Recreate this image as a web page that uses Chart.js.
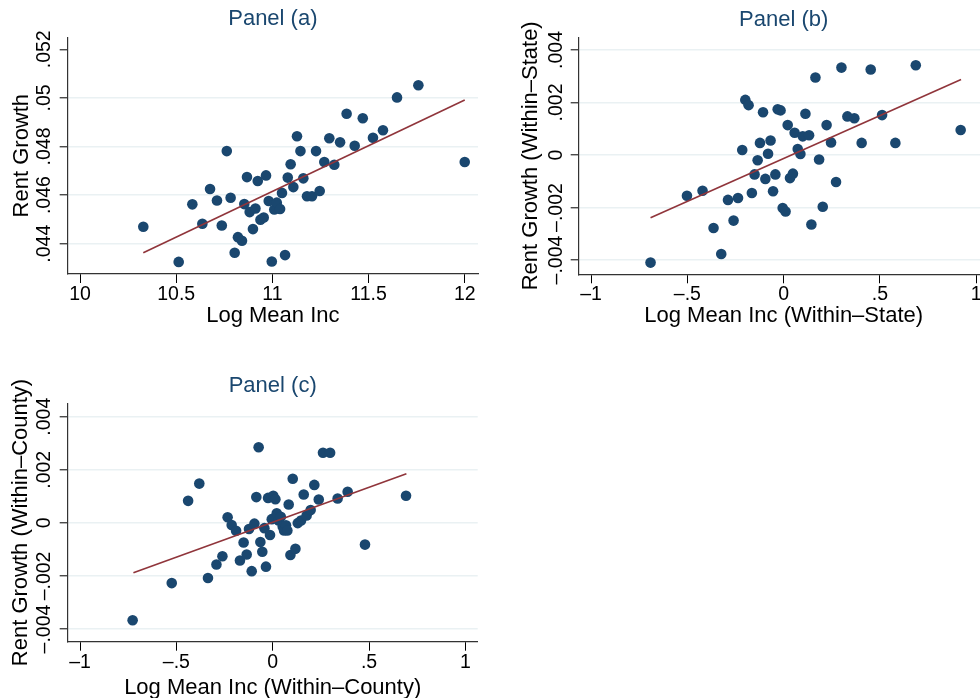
<!DOCTYPE html>
<html>
<head>
<meta charset="utf-8">
<script src="https://cdn.jsdelivr.net/npm/chart.js@4"></script>
<style>
  html, body { margin: 0; padding: 0; background: #fff; overflow: hidden; }
  #wrap { position: relative; width: 980px; height: 698px; overflow: hidden; background: #fff; }
  canvas { position: absolute; }
</style>
</head>
<body>
<div id="wrap">
  <canvas id="ch-a" width="490" height="340" style="left:0;top:0"></canvas>
  <canvas id="ch-b" width="510" height="340" style="left:490px;top:0"></canvas>
  <canvas id="ch-c" width="490" height="350" style="left:0;top:360px"></canvas>
</div>
<script>
// panel (a): levels
const incA = [10.329, 10.513, 10.584, 10.636, 10.676, 10.712, 10.737, 10.763, 10.783, 10.804,
  10.821, 10.842, 10.854, 10.868, 10.882, 10.899, 10.912, 10.924, 10.938, 10.955,
  10.967, 10.981, 10.997, 11.010, 11.023, 11.040, 11.050, 11.066, 11.080, 11.095,
  11.109, 11.128, 11.146, 11.161, 11.180, 11.206, 11.227, 11.246, 11.270, 11.296,
  11.322, 11.352, 11.386, 11.428, 11.470, 11.523, 11.575, 11.648, 11.759, 12.000];
const rentA = [.0447, .04325, .04562, .04482, .04625, .04578, .04475, .04781, .04589, .04363,
  .04427, .04412, .04563, .04674, .0453, .0446, .04545, .04658, .04499, .04508,
  .04681, .04576, .04327, .04541, .04569, .04543, .04609, .04353, .04672, .04727,
  .04633, .04842, .04781, .04669, .04595, .04595, .04781, .04617, .04736, .04834,
  .04725, .04817, .04935, .04803, .04916, .04836, .04867, .05002, .05052, .04736];
const fitAx = [10.329, 12.0];
const fitAy = [.04363, .04991];

// panel (b): within-state
const incB = [-.691, -.502, -.421, -.364, -.324, -.289, -.260, -.237, -.215, -.199,
  -.182, -.165, -.151, -.135, -.123, -.107, -.095, -.081, -.068, -.055,
  -.043, -.031, -.016, -.005, .010, .021, .033, .048, .057, .073,
  .087, .099, .113, .132, .144, .165, .184, .203, .223, .246,
  .272, .300, .331, .367, .405, .452, .511, .580, .686, .919];
const rentB = [-.0041, -.00155, -.00136, -.00278, -.00377, -.00171, -.0025, -.00164, .00019, .0021,
  .0019, -.00145, -.00074, -.0002, .00046, .00163, -.00091, .00005, .00055, -.00138,
  -.00074, .00174, .0017, -.00202, -.00215, .00114, -.00088, -.00071, .00085, .00023,
  .00004, .00071, .00157, .00075, -.00265, .00295, -.00017, -.00197, .00114, .00048,
  -.00103, .00333, .00147, .0014, .00046, .00326, .00152, .00046, .00342, .00095];
const fitBx = [-.691, .921];
const fitBy = [-.00239, .00288];

// panel (c): within-county
const incC = [-.727, -.524, -.439, -.381, -.336, -.292, -.261, -.234, -.213, -.190,
  -.170, -.151, -.135, -.123, -.109, -.095, -.085, -.073, -.064, -.054,
  -.043, -.035, -.024, -.014, -.005, .003, .014, .021, .031, .042,
  .052, .059, .069, .076, .083, .092, .104, .118, .130, .147,
  .161, .176, .197, .216, .239, .261, .298, .337, .389, .479, .692];
const rentC = [-.00367, -.00227, .00083, .00148, -.00208, -.00157, -.00126, .00021, -.00008, -.0003,
  -.00142, -.00074, -.00119, -.00023, -.00182, -.00003, .00097, .00285, -.00072, -.00109,
  -.0002, -.00165, .00094, -.00046, .00014, .00102, .00089, .00036, .00009, .00023,
  -.00014, -.00029, -.00009, -.00029, .00069, -.00121, .00166, -.00098, -.00001, .00009,
  .00107, .00028, .00048, .00143, .00088, .00264, .00264, .00092, .00117, -.00082, .00102];
const fitCx = [-.723, .694];
const fitCy = [-.00188, .00185];

// axis ticks
const ticksAx = [10, 10.5, 11, 11.5, 12];
const labelsAx = ['10', '10.5', '11', '11.5', '12'];
const ticksAy = [.044, .046, .048, .05, .052];
const labelsAy = ['.044', '.046', '.048', '.05', '.052'];
const ticksDx = [-1, -.5, 0, .5, 1];
const labelsDx = ['\u20131', '\u2013.5', '0', '.5', '1'];
const ticksDy = [-.004, -.002, 0, .002, .004];
const labelsDy = ['\u2013.004', '\u2013.002', '0', '.002', '.004'];

const NAVY = '#1a476f', MAROON = '#90353b', GRID = '#eaf1f3';
const FONT = '"Liberation Sans", Arial, Helvetica, sans-serif';

const pts = (xs, ys) => xs.map((x, i) => ({ x, y: ys[i] }));

// rotated y tick labels and y title, Stata style
const stataY = {
  id: 'stataY',
  afterDraw(chart, args, o) {
    const y = chart.scales.y, ctx = chart.ctx, ca = chart.chartArea;
    ctx.save();
    ctx.fillStyle = '#000';
    ctx.textAlign = 'center';
    ctx.textBaseline = 'alphabetic';
    ctx.font = '19.5px ' + FONT;
    o.ticks.forEach((v, i) => {
      ctx.save();
      ctx.translate(o.tickX, y.getPixelForValue(v));
      ctx.rotate(-Math.PI / 2);
      ctx.fillText(o.labels[i], 0, 0);
      ctx.restore();
    });
    ctx.font = '22px ' + FONT;
    ctx.translate(o.titleX, (ca.top + ca.bottom) / 2);
    ctx.rotate(-Math.PI / 2);
    ctx.fillText(o.title, 0, 0);
    ctx.restore();
  }
};

function panel(id, p) {
  new Chart(document.getElementById(id), {
    type: 'scatter',
    data: {
      datasets: [
        { type: 'line', data: pts(p.fx, p.fy), borderColor: MAROON, borderWidth: 1.6,
          pointRadius: 0, fill: false, order: 0 },
        { data: pts(p.xs, p.ys), backgroundColor: NAVY, borderWidth: 0,
          pointRadius: 5.3, order: 1 },
      ],
    },
    options: {
      responsive: false,
      animation: false,
      layout: { padding: { left: 0, right: p.padR, top: 0, bottom: 0 } },
      plugins: {
        legend: { display: false },
        tooltip: { enabled: false },
        title: {
          display: true, text: p.title, color: NAVY, fullSize: false,
          font: { family: FONT, size: 22, weight: 'normal', lineHeight: 1.2 },
          padding: { top: p.titleTop, bottom: p.titleBottom },
        },
        stataY: { ticks: p.yt, labels: p.yl, tickX: p.tickX, title: p.ytitle, titleX: p.titleX },
      },
      scales: {
        x: {
          type: 'linear', min: p.xmin, max: p.xmax,
          afterBuildTicks: s => { s.ticks = p.xt.map(v => ({ value: v })); },
          afterFit: s => { s.height = p.xh; },
          ticks: { callback: (v, i) => p.xl[i], color: '#000', padding: 0,
            font: { family: FONT, size: 19.5 }, maxRotation: 0, minRotation: 0 },
          grid: { drawOnChartArea: false, drawTicks: true, tickLength: 9, tickColor: '#000', tickWidth: 1 },
          border: { display: true, color: '#333', width: 1.2 },
          title: { display: true, text: p.xtitle, color: '#000',
            font: { family: FONT, size: 22, lineHeight: 1.2 },
            padding: { top: 0, bottom: p.xtPad } },
        },
        y: {
          type: 'linear', min: p.ymin, max: p.ymax,
          afterBuildTicks: s => { s.ticks = p.yt.map(v => ({ value: v })); },
          afterFit: s => { s.width = p.yw; },
          ticks: { display: false },
          grid: {
            color: c => (c.tick && (p.noGrid || []).includes(c.tick.value)) ? 'rgba(0,0,0,0)' : GRID,
            lineWidth: 1.6, drawTicks: true, tickLength: 8, tickColor: '#000', tickWidth: 1,
          },
          border: { display: true, color: '#333', width: 1.2 },
        },
      },
    },
    plugins: [stataY],
  });
}

panel('ch-a', {
  title: 'Panel (a)', titleTop: 5.9, titleBottom: 5, padR: 12,
  xs: incA, ys: rentA, fx: fitAx, fy: fitAy,
  xmin: 9.936, xmax: 12.069, ymin: .042753, ymax: .052494,
  xt: ticksAx, xl: labelsAx, yt: ticksAy, yl: labelsAy, noGrid: [.052],
  xh: 66, yw: 67.7, xtitle: 'Log Mean Inc', xtPad: 10.4,
  ytitle: 'Rent Growth', tickX: 50, titleX: 28,
});

panel('ch-b', {
  title: 'Panel (b)', titleTop: 6.5, titleBottom: 4.4, padR: 11.4,
  xs: incB, ys: rentB, fx: fitBx, fy: fitBy,
  xmin: -1.064, xmax: 1.064, ymin: -.004545, ymax: .004484,
  xt: ticksDx, xl: labelsDx, yt: ticksDy, yl: labelsDy,
  xh: 65.7, yw: 88.7, xtitle: 'Log Mean Inc (Within\u2013State)', xtPad: 10.4,
  ytitle: 'Rent Growth (Within\u2013State)', tickX: 71.7, titleX: 47,
});

panel('ch-c', {
  title: 'Panel (c)', titleTop: 13.2, titleBottom: 3.7, padR: 12.3,
  xs: incC, ys: rentC, fx: fitCx, fy: fitCy,
  xmin: -1.064, xmax: 1.064, ymin: -.004478, ymax: .004505,
  xt: ticksDx, xl: labelsDx, yt: ticksDy, yl: labelsDy,
  xh: 68.3, yw: 67.7, xtitle: 'Log Mean Inc (Within\u2013County)', xtPad: 8.4,
  ytitle: 'Rent Growth (Within\u2013County)', tickX: 50, titleX: 27,
});
</script>
</body>
</html>
